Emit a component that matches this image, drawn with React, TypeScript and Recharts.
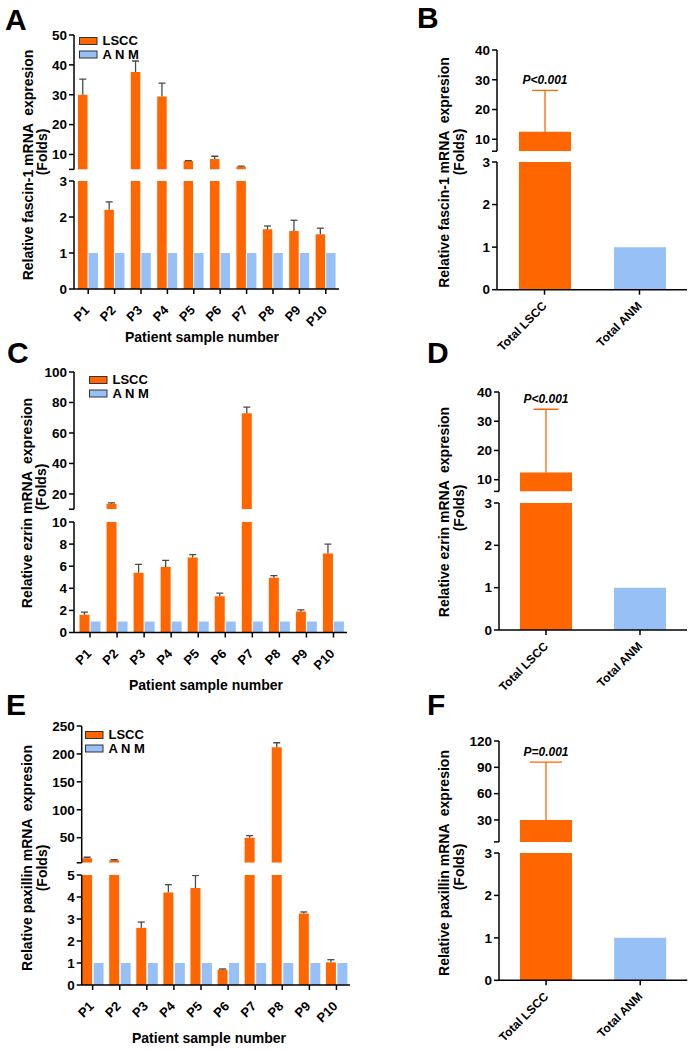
import React from 'react';
import { BarChart, Bar, XAxis, YAxis, Cell, Legend, LabelList } from 'recharts';

// ================= DATA =================
const patients = ['P1', 'P2', 'P3', 'P4', 'P5', 'P6', 'P7', 'P8', 'P9', 'P10'];
const seriesNames = ['LSCC', 'A N M'];

// Fascin-1 (panel A)
const fascinLSCC = [30.0, 2.2, 37.6, 29.4, 7.8, 8.5, 5.9, 1.66, 1.61, 1.52];
const fascinLSCCErr = [5.2, 0.22, 3.7, 4.5, 0.15, 0.9, 0.2, 0.09, 0.3, 0.17];
const fascinANM = [1, 1, 1, 1, 1, 1, 1, 1, 1, 1];

// Ezrin (panel C)
const ezrinLSCC = [1.6, 13.6, 5.41, 5.93, 6.78, 3.28, 73.0, 4.95, 1.91, 7.14];
const ezrinLSCCErr = [0.25, 0.6, 0.76, 0.6, 0.27, 0.28, 4.0, 0.19, 0.13, 0.85];
const ezrinANM = [1, 1, 1, 1, 1, 1, 1, 1, 1, 1];

// Paxillin (panel E)
const paxillinLSCC = [13.1, 9.5, 2.6, 4.21, 4.41, 0.7, 50.0, 212.0, 3.25, 1.03];
const paxillinLSCCErr = [1.8, 1.0, 0.26, 0.35, 0.57, 0.03, 3.6, 8.0, 0.07, 0.12];
const paxillinANM = [1, 1, 1, 1, 1, 1, 1, 1, 1, 1];

// Totals (panels B, D, F)
const totalGroups = ['Total LSCC', 'Total ANM'];
const fascinTotal = [12.5, 1];
const fascinTotalErr = [13.9, null];
const fascinP = ['P<0.001', null];
const ezrinTotal = [12.5, 1];
const ezrinTotalErr = [21.6, null];
const ezrinP = ['P<0.001', null];
const paxillinTotal = [30, 1];
const paxillinTotalErr = [66, null];
const paxillinP = ['P=0.001', null];

// Tick labels (first value of each upper list = axis break)
const fascinUpperTicks = [5, 10, 20, 30, 40, 50];
const fascinLowerTicks = [0, 1, 2, 3];
const fascinTotalUpperTicks = [6, 10, 20, 30, 40];
const ezrinUpperTicks = [10, 20, 40, 60, 80, 100];
const ezrinLowerTicks = [0, 2, 4, 6, 8, 10];
const ezrinTotalUpperTicks = [6, 10, 20, 30, 40];
const paxillinUpperTicks = [5, 50, 100, 150, 200, 250];
const paxillinLowerTicks = [0, 1, 2, 3, 4, 5];
const paxillinTotalUpperTicks = [5, 30, 60, 90, 120];
const totalLowerTicks = [0, 1, 2, 3];

// ================= STYLE =================
const FONT = '"Liberation Sans", Arial, Helvetica, sans-serif';
const ORANGE = '#FF6600';
const BLUE = '#97C1F6';
const ERR_GRAY = '#4a4a4a';
const AXIS = '#000000';
const seriesColors = [ORANGE, BLUE];
const totalColors = [ORANGE, BLUE];

const M_TOP_U = 14;
const M_BOT_U = 6;
const M_TOP_L = 10;
const XH = 75;
const M_RIGHT = 14;

const buildPatientRows = (lscc: number[], err: number[], anm: number[]) =>
  patients.map((name, i) => ({ name, lscc: lscc[i], errSeg: err[i], anm: anm[i] }));
const buildTotalRows = (vals: number[], err: (number | null)[], p: (string | null)[]) =>
  totalGroups.map((name, i) => ({ name, value: vals[i], errSeg: err[i], p: p[i] }));

const yAxisProps = (ticks: number[], hideFirst: boolean) => ({
  type: 'number' as const,
  domain: [ticks[0], ticks[ticks.length - 1]],
  ticks,
  interval: 0 as const,
  allowDataOverflow: true,
  axisLine: { stroke: AXIS, strokeWidth: 1.5 },
  tickLine: { stroke: AXIS, strokeWidth: 1.5 },
  tickSize: 5,
  tickMargin: 2,
  tick: { fill: '#000', fontSize: 13.5, fontWeight: 700, fontFamily: FONT },
  tickFormatter: (v: number) => (hideFirst && v === ticks[0] ? '' : String(v)),
});

const RotTick = (props: any) => {
  const { x, y, payload, fs = 13, dx = 2, dy = 15 } = props;
  return (
    <g transform={`translate(${x + dx},${y + dy}) rotate(-45)`}>
      <text x={0} y={0} textAnchor="end" fill="#000" fontSize={fs} fontWeight={700} fontFamily={FONT}>
        {payload.value}
      </text>
    </g>
  );
};

type SegInfo = { lo: number; hi: number; isUpper: boolean };

// error bar drawn only in the axis segment that holds the top of its bar
const makeErrShape = (color: string, capW: number, valueKey: string, seg: SegInfo) => (props: any) => {
  const { x, y, width, height, payload } = props;
  if (!payload || payload.errSeg == null || !(height > 0)) return <g />;
  const v = payload[valueKey];
  if (v < seg.lo || v > seg.hi) return <g />;
  const cx = x + width / 2;
  return (
    <g>
      <line x1={cx} y1={y + height} x2={cx} y2={y} stroke={color} strokeWidth={1.3} />
      <line x1={cx - capW / 2} y1={y} x2={cx + capW / 2} y2={y} stroke={color} strokeWidth={1.3} />
    </g>
  );
};

const LegendContent = () => (
  <svg width={90} height={30} style={{ display: 'block', overflow: 'visible' }}>
    {seriesNames.map((n, i) => (
      <g key={n} transform={`translate(0.5, ${0.5 + i * 13.5})`}>
        <rect x={0} y={0} width={17.5} height={7} fill={seriesColors[i]} stroke="#333" strokeWidth={1} />
        <text x={23} y={7.9} fontSize={13} fontWeight={700} fontFamily={FONT} fill="#000">
          {n}
        </text>
      </g>
    ))}
  </svg>
);

type Seg = { top: number; bottom: number; ticks: number[] };
type Lay = {
  ox: number;
  axisX: number;
  plotRight: number;
  upper: Seg;
  lower: Seg;
  xPad?: { left: number; right: number };
  barSize: number;
  barGap?: number;
  legendAt?: { x: number; y: number };
  tickFs: number;
  tickDx: number;
  tickDy: number;
};

function BrokenChart({ lay, data, bars }: { lay: Lay; data: any[]; bars: (s: SegInfo) => React.ReactNode }) {
  const { ox, axisX, plotRight, upper, lower, barSize } = lay;
  const xPad = lay.xPad || { left: 0, right: 0 };
  const barGap = lay.barGap ?? 1;
  const yw = axisX - ox;
  const width = plotRight - ox + M_RIGHT;
  const upTop = upper.top - M_TOP_U;
  const upH = upper.bottom - upper.top + M_TOP_U + M_BOT_U;
  const lowTop = lower.top - M_TOP_L;
  const lowH = lower.bottom - lower.top + M_TOP_L + XH;
  const upSeg: SegInfo = { lo: upper.ticks[0], hi: upper.ticks[upper.ticks.length - 1], isUpper: true };
  const lowSeg: SegInfo = { lo: lower.ticks[0], hi: lower.ticks[lower.ticks.length - 1], isUpper: false };
  return (
    <>
      <div style={{ position: 'absolute', left: ox, top: upTop, width, height: upH }}>
        <BarChart width={width} height={upH} data={data} margin={{ top: M_TOP_U, right: M_RIGHT, bottom: M_BOT_U, left: 0 }} barSize={barSize} barGap={barGap}>
          <XAxis dataKey="name" hide padding={xPad} />
          <YAxis width={yw} {...(yAxisProps(upper.ticks, true) as any)} />
          {lay.legendAt && (
            <Legend
              verticalAlign="middle"
              align="center"
              layout="horizontal"
              wrapperStyle={{ left: lay.legendAt.x - ox, top: lay.legendAt.y - upTop, width: 90, height: 30 }}
              content={() => <LegendContent />}
            />
          )}
          {bars(upSeg)}
        </BarChart>
      </div>
      <div style={{ position: 'absolute', left: ox, top: lowTop, width, height: lowH }}>
        <BarChart width={width} height={lowH} data={data} margin={{ top: M_TOP_L, right: M_RIGHT, bottom: 0, left: 0 }} barSize={barSize} barGap={barGap}>
          <XAxis
            dataKey="name"
            height={XH}
            padding={xPad}
            interval={0}
            tick={<RotTick fs={lay.tickFs} dx={lay.tickDx} dy={lay.tickDy} />}
            tickSize={5}
            tickMargin={2}
            axisLine={{ stroke: AXIS, strokeWidth: 1.5 }}
            tickLine={{ stroke: AXIS, strokeWidth: 1.5 }}
          />
          <YAxis width={yw} {...(yAxisProps(lower.ticks, false) as any)} />
          {bars(lowSeg)}
        </BarChart>
      </div>
    </>
  );
}

const patientBars = (errColor: string) => (seg: SegInfo) => (
  <>
    <Bar dataKey="lscc" name="LSCC" stackId="a" fill={ORANGE} isAnimationActive={false} />
    <Bar dataKey="errSeg" stackId="a" legendType="none" isAnimationActive={false} shape={makeErrShape(errColor, 7, 'lscc', seg)} />
    <Bar dataKey="anm" name="A N M" stackId="b" fill={BLUE} isAnimationActive={false} />
  </>
);

const totalBars = (rows: any[], capW: number) => (seg: SegInfo) => (
  <>
    <Bar dataKey="value" stackId="t" isAnimationActive={false}>
      {rows.map((r, i) => (
        <Cell key={r.name} fill={totalColors[i]} />
      ))}
    </Bar>
    <Bar dataKey="errSeg" stackId="t" legendType="none" isAnimationActive={false} shape={makeErrShape(ORANGE, capW, 'value', seg)}>
      {seg.isUpper && (
        <LabelList dataKey="p" position="top" offset={6} fill="#000" fontSize={12} fontWeight={700} fontStyle="italic" fontFamily={FONT} />
      )}
    </Bar>
  </>
);

// ================= LAYOUT =================
const patTick = { tickFs: 13, tickDx: 2, tickDy: 15 };
const totTick = { tickFs: 12, tickDx: 3, tickDy: 10 };
const layA: Lay = {
  ox: 0, axisX: 74, plotRight: 339, xPad: { left: 1, right: 0 },
  upper: { top: 35, bottom: 169.4, ticks: fascinUpperTicks },
  lower: { top: 181, bottom: 289, ticks: fascinLowerTicks },
  barSize: 9.5, barGap: 1, legendAt: { x: 79, y: 37 }, ...patTick,
};
const layB: Lay = {
  ox: 400, axisX: 497, plotRight: 687,
  upper: { top: 50, bottom: 151.2, ticks: fascinTotalUpperTicks },
  lower: { top: 162.3, bottom: 290, ticks: totalLowerTicks },
  barSize: 52, ...totTick,
};
const layC: Lay = {
  ox: 0, axisX: 74, plotRight: 347, xPad: { left: 2.5, right: 0 },
  upper: { top: 372.3, bottom: 509.5, ticks: ezrinUpperTicks },
  lower: { top: 522, bottom: 632.5, ticks: ezrinLowerTicks },
  barSize: 10, barGap: 1, legendAt: { x: 89, y: 376.5 }, ...patTick,
};
const layD: Lay = {
  ox: 400, axisX: 499, plotRight: 687,
  upper: { top: 392.3, bottom: 491.7, ticks: ezrinTotalUpperTicks },
  lower: { top: 503, bottom: 630, ticks: totalLowerTicks },
  barSize: 52, ...totTick,
};
const layE: Lay = {
  ox: 0, axisX: 81.7, plotRight: 350, xPad: { left: -2.6, right: 0 },
  upper: { top: 726, bottom: 862.8, ticks: paxillinUpperTicks },
  lower: { top: 875, bottom: 985, ticks: paxillinLowerTicks },
  barSize: 10, barGap: 1.5, legendAt: { x: 85, y: 730.5 }, ...patTick,
};
const layF: Lay = {
  ox: 400, axisX: 499, plotRight: 687.3,
  upper: { top: 741, bottom: 841.9, ticks: paxillinTotalUpperTicks },
  lower: { top: 852.7, bottom: 980, ticks: totalLowerTicks },
  barSize: 52, ...totTick,
};

const panelLetters = [
  { t: 'A', x: 5, y: 30 },
  { t: 'B', x: 417, y: 28 },
  { t: 'C', x: 7, y: 363 },
  { t: 'D', x: 427, y: 363 },
  { t: 'E', x: 6, y: 715 },
  { t: 'F', x: 427, y: 715 },
];
const yTitles = [
  { t: 'Relative fascin-1 mRNA  expresion', x: 33, y: 165 },
  { t: '(Folds)', x: 47, y: 152 },
  { t: 'Relative fascin-1 mRNA  expresion', x: 449, y: 172.5 },
  { t: '(Folds)', x: 464, y: 152 },
  { t: 'Relative ezrin mRNA  expresion', x: 32, y: 503 },
  { t: '(Folds)', x: 46, y: 487 },
  { t: 'Relative ezrin mRNA  expresion', x: 449, y: 512 },
  { t: '(Folds)', x: 464, y: 508 },
  { t: 'Relative paxillin mRNA  expresion', x: 32, y: 858 },
  { t: '(Folds)', x: 47, y: 868 },
  { t: 'Relative paxillin mRNA  expresion', x: 449, y: 863 },
  { t: '(Folds)', x: 464, y: 867 },
];
const xTitles = [
  { t: 'Patient sample number', x: 202, y: 342 },
  { t: 'Patient sample number', x: 206, y: 690 },
  { t: 'Patient sample number', x: 209, y: 1043 },
];

export default function App() {
  const rowsA = buildPatientRows(fascinLSCC, fascinLSCCErr, fascinANM);
  const rowsC = buildPatientRows(ezrinLSCC, ezrinLSCCErr, ezrinANM);
  const rowsE = buildPatientRows(paxillinLSCC, paxillinLSCCErr, paxillinANM);
  const rowsB = buildTotalRows(fascinTotal, fascinTotalErr, fascinP);
  const rowsD = buildTotalRows(ezrinTotal, ezrinTotalErr, ezrinP);
  const rowsF = buildTotalRows(paxillinTotal, paxillinTotalErr, paxillinP);
  return (
    <div style={{ position: 'absolute', left: 0, top: 0, width: 692, height: 1050, background: '#fff', fontFamily: FONT, overflow: 'hidden' }}>
      <svg width={692} height={1050} style={{ position: 'absolute', left: 0, top: 0 }}>
        {panelLetters.map((l) => (
          <text key={l.t} x={l.x} y={l.y} fontSize={30} fontWeight={700} fontFamily={FONT} fill="#000">
            {l.t}
          </text>
        ))}
        {yTitles.map((t, i) => (
          <text
            key={i}
            x={t.x}
            y={t.y}
            transform={`rotate(-90, ${t.x}, ${t.y})`}
            textAnchor="middle"
            fontSize={14}
            fontWeight={700}
            fontFamily={FONT}
            fill="#000"
            style={{ whiteSpace: 'pre' }}
          >
            {t.t}
          </text>
        ))}
        {xTitles.map((t, i) => (
          <text key={i} x={t.x} y={t.y} textAnchor="middle" fontSize={14} fontWeight={700} fontFamily={FONT} fill="#000">
            {t.t}
          </text>
        ))}
      </svg>
      <BrokenChart lay={layA} data={rowsA} bars={patientBars(ERR_GRAY)} />
      <BrokenChart lay={layB} data={rowsB} bars={totalBars(rowsB, 26)} />
      <BrokenChart lay={layC} data={rowsC} bars={patientBars(ERR_GRAY)} />
      <BrokenChart lay={layD} data={rowsD} bars={totalBars(rowsD, 25)} />
      <BrokenChart lay={layE} data={rowsE} bars={patientBars(ERR_GRAY)} />
      <BrokenChart lay={layF} data={rowsF} bars={totalBars(rowsF, 32)} />
    </div>
  );
}
